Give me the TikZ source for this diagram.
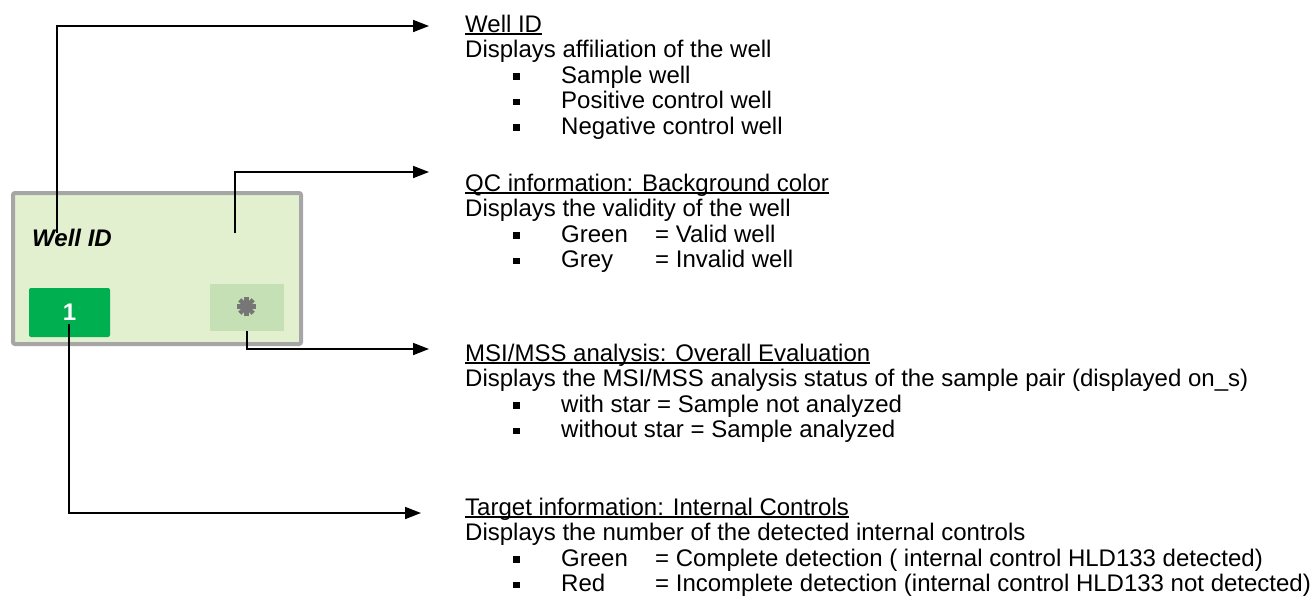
\documentclass[tikz,border=0pt]{standalone}
\usepackage{fontspec}
\setmainfont{Liberation Sans}
\usetikzlibrary{arrows.meta}
\definecolor{wellfill}{RGB}{226,240,208}
\definecolor{wellborder}{RGB}{166,166,166}
\definecolor{okgreen}{RGB}{0,176,80}
\definecolor{starfill}{RGB}{197,224,180}
\definecolor{stargray}{RGB}{118,118,118}
\newcommand\myul[1]{\setbox0\hbox{#1}\rlap{\rule[-2.8pt]{\wd0}{1.7pt}}\box0}
\newcommand\bsq{\rule[3.2pt]{6.5pt}{6.5pt}}
\begin{document}
\begin{tikzpicture}[x=1pt,y=-1pt,
  txt/.style={anchor=base west,inner sep=0pt,font=\fontsize{24}{25.5}\selectfont},
  conn/.style={line width=1.7pt,-{Triangle[length=16pt,width=12pt]}},
  ]
\useasboundingbox (0,0) rectangle (1315,598);
% well box
\node[draw=wellborder, fill=wellfill, line width=4pt, rounded corners=2pt,
      minimum width=288pt, minimum height=151pt, inner sep=0pt] (well) at (157,268.5) {};
\node[fill=okgreen, rounded corners=2pt, minimum width=81pt, minimum height=49pt,
      inner sep=0pt, text=white, font=\fontsize{24}{24}\selectfont\bfseries] (btn) at (69.5,312.5) {1};
\node[fill=starfill, minimum width=74pt, minimum height=47pt, inner sep=0pt] (starbox) at (247,307.5) {};
\begin{scope}[shift={(246.5,306.5)}]
  \foreach \a in {0,45,90,135} \draw[stargray,line width=4.5pt] (\a:9.5) -- (\a+180:9.5);
\end{scope}
\node[txt, font=\fontsize{24}{24}\selectfont\bfseries\itshape] (wellid) at (32,246) {Well ID};
% connector ends
\coordinate (s1) at (57,233);
\coordinate (s2) at (235,233);
\coordinate (s4) at (69,324);
\coordinate (t1) at (429,26);
\coordinate (t2) at (429,172);
\coordinate (t3) at (429,349);
\coordinate (t4) at (421,513);
\draw[conn] (s1) |- (t1);
\draw[conn] (s2) |- (t2);
\draw[conn] (starbox.south) |- (t3);
\draw[conn] (s4) |- (t4);
% block 1
\node[txt] (h1) at (465,32) {\myul{Well ID}};
\node[txt] (d1) at (465,57.5) {Displays affiliation of the well};
\node[txt] (i1a) at (513,83) {\makebox[48pt][l]{\bsq}Sample well};
\node[txt] (i1b) at (513,108.5) {\makebox[48pt][l]{\bsq}Positive control well};
\node[txt] (i1c) at (513,134) {\makebox[48pt][l]{\bsq}Negative control well};
% block 2
\node[txt] (h2) at (465,191) {\myul{QC information: Background color}};
\node[txt] (d2) at (465,216.5) {Displays the validity of the well};
\node[txt] (i2a) at (513,242) {\makebox[48pt][l]{\bsq}\makebox[94pt][l]{Green}= Valid well};
\node[txt] (i2b) at (513,267.5) {\makebox[48pt][l]{\bsq}\makebox[94pt][l]{Grey}= Invalid well};
% block 3
\node[txt] (h3) at (465,361) {\myul{MSI/MSS analysis: Overall Evaluation}};
\node[txt] (d3) at (465,386.5) {Displays the MSI/MSS analysis status of the sample pair (displayed on\_s)};
\node[txt] (i3a) at (513,412) {\makebox[48pt][l]{\bsq}with star = Sample not analyzed};
\node[txt] (i3b) at (513,437.5) {\makebox[48pt][l]{\bsq}without star = Sample analyzed};
% block 4
\node[txt] (h4) at (465,515) {\myul{Target information: Internal Controls}};
\node[txt] (d4) at (465,540.5) {Displays the number of the detected internal controls};
\node[txt] (i4a) at (513,566) {\makebox[48pt][l]{\bsq}\makebox[94pt][l]{Green}= Complete detection ( internal control HLD133 detected)};
\node[txt] (i4b) at (513,591.5) {\makebox[48pt][l]{\bsq}\makebox[94pt][l]{Red}= Incomplete detection (internal control HLD133 not detected)};
\end{tikzpicture}
\end{document}
